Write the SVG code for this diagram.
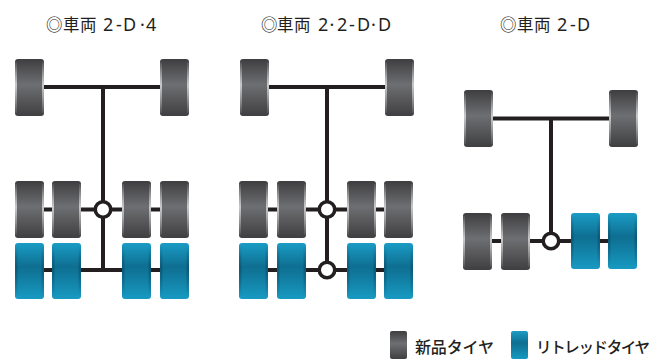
<svg xmlns="http://www.w3.org/2000/svg" width="652" height="359" viewBox="0 0 652 359">
<style>
text{fill:#231f20}
.title{font-family:"Noto Sans",sans-serif;font-size:18px}
.cjk{font-family:"Noto Sans CJK JP",sans-serif;font-size:16.500px}
.legend{font-family:"Noto Sans CJK JP",sans-serif;font-weight:500}
.axle{stroke:#231f20;stroke-width:4;fill:none}
.hub{stroke:#231f20;stroke-width:3.500;fill:#fff}
</style>
<defs>
<linearGradient id="gv" x1="0" y1="0" x2="0" y2="1"><stop offset="0" stop-color="#3e3e40"/><stop offset=".45" stop-color="#6e6f72"/><stop offset="1" stop-color="#3f3f41"/></linearGradient>
<linearGradient id="tv" x1="0" y1="0" x2="0" y2="1"><stop offset="0" stop-color="#1a9cc5"/><stop offset=".42" stop-color="#0e6f92"/><stop offset=".6" stop-color="#117b9f"/><stop offset="1" stop-color="#189ac2"/></linearGradient>
<linearGradient id="gs" x1="0" y1="0" x2="0" y2="1"><stop offset="0" stop-color="#d8d8da" stop-opacity=".1"/><stop offset=".45" stop-color="#d8d8da" stop-opacity=".85"/><stop offset="1" stop-color="#d8d8da" stop-opacity=".1"/></linearGradient>
<linearGradient id="ts" x1="0" y1="0" x2="0" y2="1"><stop offset="0" stop-color="#0a5470" stop-opacity="0"/><stop offset=".45" stop-color="#0a5470" stop-opacity=".75"/><stop offset="1" stop-color="#0a5470" stop-opacity="0"/></linearGradient>
<symbol id="grey" width="29" height="57" viewBox="0 0 29 57"><rect width="29" height="57" rx="3" fill="url(#gv)"/><rect x="0" y="3" width="2" height="51" fill="url(#gs)"/><rect x="27" y="3" width="2" height="51" fill="url(#gs)"/></symbol>
<symbol id="teal" width="29" height="56" viewBox="0 0 29 56"><rect width="29" height="56" rx="3" fill="url(#tv)"/><rect x="0" y="3" width="2.500" height="50" fill="url(#ts)"/><rect x="26.500" y="3" width="2.500" height="50" fill="url(#ts)"/></symbol>
<symbol id="lgrey" width="17" height="28" viewBox="0 0 17 28"><rect width="17" height="28" rx="2" fill="url(#gv)"/></symbol>
<symbol id="lteal" width="17" height="28" viewBox="0 0 17 28"><rect width="17" height="28" rx="2" fill="url(#tv)"/></symbol>
</defs>
<g id="connectors">
<path class="axle" d="M30 87H175M103 87V270M30 209.500H175M30 270H175"/>
<path class="axle" d="M255 87H400M327 87V270M254 209.500H399M254 270H399"/>
<path class="axle" d="M479 118.500H624M551 118.500V241M478 241H623"/>
</g>
<g id="vehicle-1">
<text class="title" y="31"><tspan class="cjk" x="46 63 80">◎車両</tspan><tspan x="103">2</tspan><tspan x="116">-</tspan><tspan x="123">D</tspan><tspan x="140">·</tspan><tspan x="146">4</tspan></text>
<use href="#grey" x="15" y="59"/><use href="#grey" x="160" y="59"/>
<use href="#grey" x="15" y="181"/><use href="#grey" x="52" y="181"/><use href="#grey" x="122" y="181"/><use href="#grey" x="160" y="181"/>
<use href="#teal" x="15" y="243"/><use href="#teal" x="52" y="243"/><use href="#teal" x="122" y="243"/><use href="#teal" x="160" y="243"/>
<circle class="hub" cx="103" cy="209.500" r="7.750"/>
</g>
<g id="vehicle-2">
<text class="title" y="31"><tspan class="cjk" x="261 277 294">◎車両</tspan><tspan x="318">2</tspan><tspan x="329.500">·</tspan><tspan x="337">2</tspan><tspan x="349">-</tspan><tspan x="357">D</tspan><tspan x="371">·</tspan><tspan x="378">D</tspan></text>
<use href="#grey" x="240" y="59"/><use href="#grey" x="385" y="59"/>
<use href="#grey" x="239" y="181"/><use href="#grey" x="277" y="181"/><use href="#grey" x="347" y="181"/><use href="#grey" x="384" y="181"/>
<use href="#teal" x="239" y="243"/><use href="#teal" x="277" y="243"/><use href="#teal" x="347" y="243"/><use href="#teal" x="384" y="243"/>
<circle class="hub" cx="327" cy="209.500" r="7.750"/><circle class="hub" cx="327" cy="270" r="7.750"/>
</g>
<g id="vehicle-3">
<text class="title" y="31"><tspan class="cjk" x="500 517 534">◎車両</tspan><tspan x="557">2</tspan><tspan x="570">-</tspan><tspan x="577">D</tspan></text>
<use href="#grey" x="464" y="90"/><use href="#grey" x="609" y="90"/>
<use href="#grey" x="463" y="213"/><use href="#grey" x="501" y="213"/>
<use href="#teal" x="571" y="213"/><use href="#teal" x="608" y="213"/>
<circle class="hub" cx="551" cy="241" r="7.750"/>
</g>
<g id="legend-new"><use href="#lgrey" x="390" y="331"/><text class="legend" x="415" y="353" font-size="16" textLength="79">新品タイヤ</text></g>
<g id="legend-retread"><use href="#lteal" x="511" y="331"/><text class="legend" x="536" y="353" font-size="15.500" textLength="114">リトレッドタイヤ</text></g>
</svg>
